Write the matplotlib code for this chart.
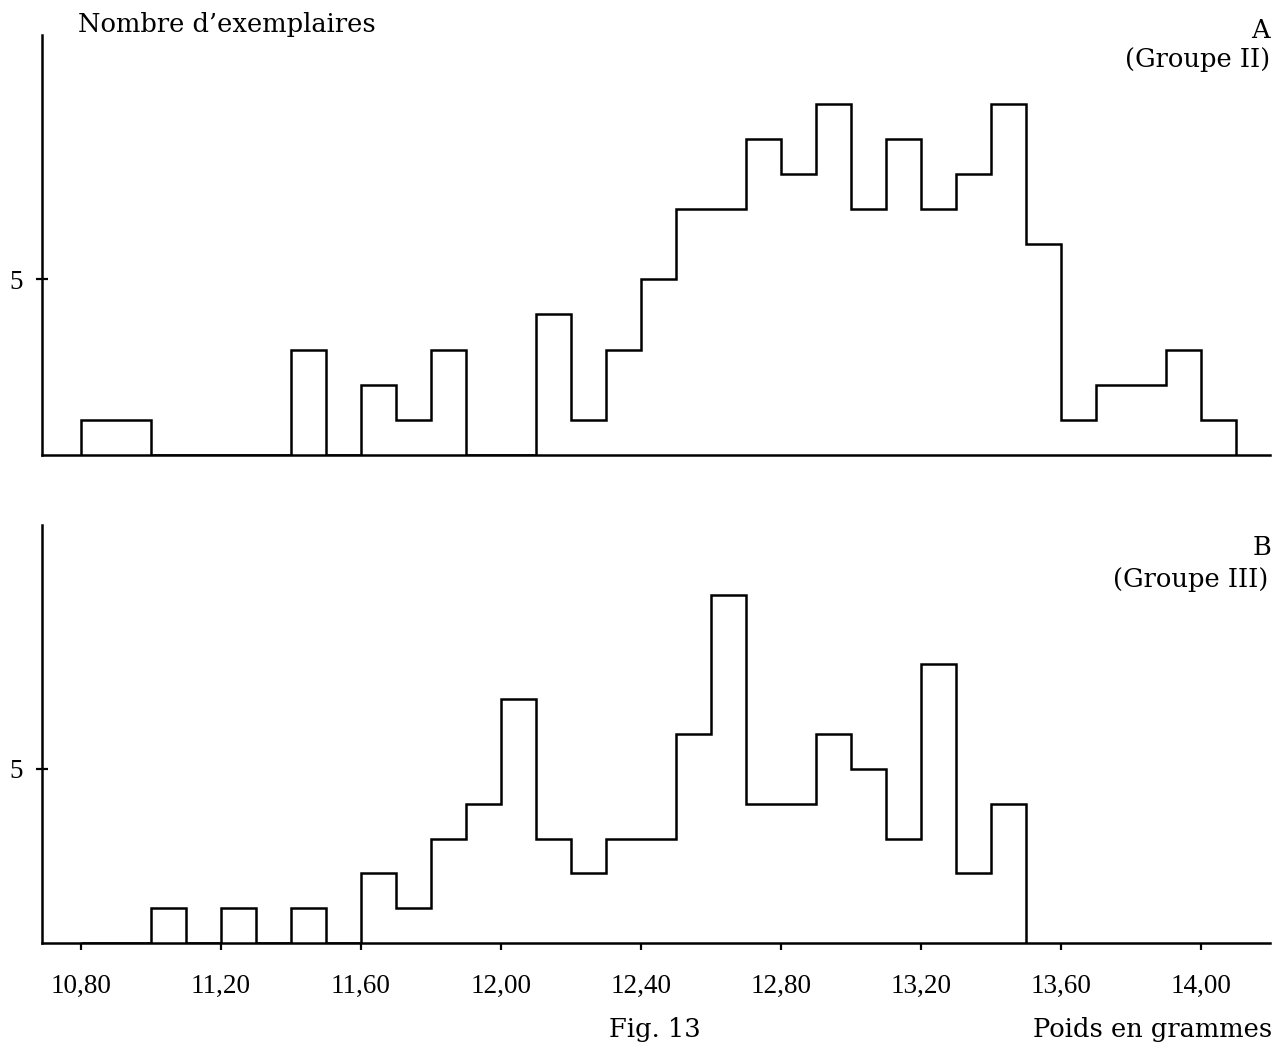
import numpy as np
import matplotlib
matplotlib.use("Agg")
import matplotlib.pyplot as plt

# ---- data (counts per 0.10 g class) ----
bin_width = 0.10
start_A = 10.80
counts_A = [1, 1, 0, 0, 0, 0, 3, 0, 2, 1, 3, 0, 0, 4, 1, 3, 5, 7, 7, 9, 8, 10,
            7, 9, 7, 8, 10, 6, 1, 2, 2, 3, 1]
start_B = 10.80
counts_B = [0, 0, 1, 0, 1, 0, 1, 0, 2, 1, 3, 4, 7, 3, 2, 3, 3, 6, 10, 4, 4, 6,
            5, 3, 8, 2, 4]
xtick_values = [10.80, 11.20, 11.60, 12.00, 12.40, 12.80, 13.20, 13.60, 14.00]
xtick_labels = ["10,80", "11,20", "11,60", "12,00", "12,40", "12,80", "13,20", "13,60", "14,00"]
ytick_values = [5]
ytick_labels = ["5"]
label_A = ["A", "(Groupe II)"]
label_B = ["B", "(Groupe III)"]
ylabel_text = "Nombre d\u2019exemplaires"
xlabel_text = "Poids en grammes"
fig_text = "Fig. 13"

FONT = "DejaVu Serif"
TICKFONT = "Liberation Serif"
plt.rcParams['font.family'] = [FONT]

W, H = 1274, 1052
fig = plt.figure(figsize=(W / 100, H / 100), dpi=100)


def fx(px):
    return px / W


def fy(py):
    return 1 - py / H


xlim = (10.689, 14.197)
LW = 1.8

ax_A = fig.add_axes([fx(42), fy(455), fx(1270 - 42), (455 - 35) / H])
ax_B = fig.add_axes([fx(42), fy(943), fx(1270 - 42), (943 - 525) / H])

for ax, start, counts, ytop in ((ax_A, start_A, counts_A, 11.95),
                                (ax_B, start_B, counts_B, 12.0)):
    edges = np.round(start + bin_width * np.arange(len(counts) + 1), 2)
    ax.stairs(counts, edges, baseline=0, fill=False, color="black", linewidth=LW)
    ax.set_xlim(*xlim)
    ax.set_ylim(0, ytop)
    for s in ("top", "right"):
        ax.spines[s].set_visible(False)
    for s in ("left", "bottom"):
        ax.spines[s].set_linewidth(LW)
        ax.spines[s].set_color("black")
    ax.set_yticks(ytick_values)
    ax.set_yticklabels(ytick_labels, fontfamily=TICKFONT)
    ax.tick_params(axis="y", direction="inout", length=8, width=1.6, pad=10,
                   labelsize=19.5)
    ax.patch.set_alpha(0)

ax_A.set_xticks([])
ax_B.set_xticks(xtick_values)
ax_B.set_xticklabels(xtick_labels, fontfamily=TICKFONT)
ax_B.tick_params(axis="x", direction="out", length=5, width=1.6, pad=17,
                 labelsize=19.5)

TS = 18.5
fig.text(fx(78), fy(32), ylabel_text, ha="left", va="baseline", fontsize=TS)
fig.text(fx(1270), fy(38), label_A[0], ha="right", va="baseline", fontsize=TS)
fig.text(fx(1270), fy(67), label_A[1], ha="right", va="baseline", fontsize=TS)
fig.text(fx(1271), fy(555), label_B[0], ha="right", va="baseline", fontsize=TS)
fig.text(fx(1268), fy(587), label_B[1], ha="right", va="baseline", fontsize=TS)
fig.text(fx(655), fy(1037), fig_text, ha="center", va="baseline", fontsize=TS)
fig.text(fx(1272), fy(1037), xlabel_text, ha="right", va="baseline", fontsize=TS)

fig.savefig("out.png", dpi=100, facecolor="white")
